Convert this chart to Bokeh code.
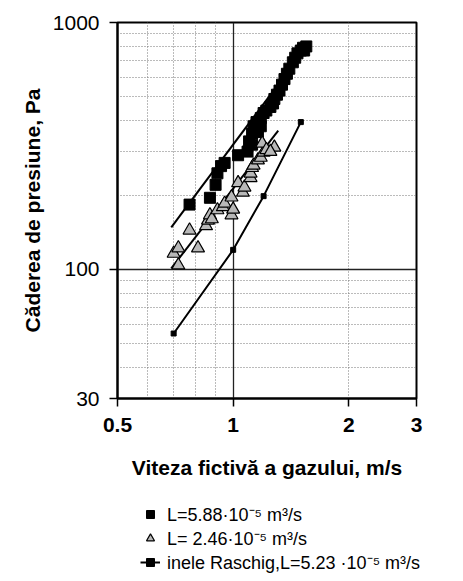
from bokeh.plotting import figure
from bokeh.layouts import column, row
from bokeh.models import (FixedTicker, CustomJSTickFormatter, Legend, LegendItem)
from bokeh.embed import file_html
from bokeh.resources import INLINE

# ---- data ----
sq_x = [0.77, 0.87, 0.90, 0.91, 0.93, 0.95, 1.03, 1.09, 1.10, 1.12, 1.12, 1.13,
        1.15, 1.16, 1.18, 1.18, 1.20, 1.22, 1.25, 1.27, 1.28, 1.30, 1.32, 1.34,
        1.36, 1.38, 1.40, 1.43, 1.45, 1.47, 1.50, 1.52, 1.53, 1.55]
sq_y = [183, 195, 220, 245, 262, 270, 290, 300, 330, 320, 355, 380,
        395, 360, 410, 380, 430, 440, 455, 470, 490, 510, 530, 560,
        590, 620, 650, 690, 720, 750, 770, 790, 770, 800]

tri_x = [0.70, 0.72, 0.72, 0.77, 0.81, 0.85, 0.86, 0.87, 0.88, 0.91, 0.94, 0.95,
         0.99, 1.00, 0.99, 1.03, 1.06, 1.07, 1.11, 1.11, 1.12, 1.13, 1.16, 1.18,
         1.20, 1.19, 1.28, 1.22, 1.25]
tri_y = [116, 104, 122, 144, 122, 150, 158, 166, 160, 174, 179, 185,
         166, 175, 196, 224, 205, 215, 235, 245, 258, 264, 277, 284,
         298, 324, 312, 305, 300]

ras_x = [0.70, 1.00, 1.20, 1.50]
ras_y = [55, 120, 198, 395]

sq_fit_x = [0.69, 1.58]
sq_fit_y = [148, 830]
tri_fit_x = [0.69, 1.31]
tri_fit_y = [101, 365]

x_ticks = [0.5, 1, 2, 3]
y_ticks = [30, 100, 1000]
x_minor_grid = [0.6, 0.7, 0.8, 0.9, 2]
y_minor_grid = [40, 50, 60, 70, 80, 90, 200, 300, 400, 500, 600, 700, 800, 900]

labels = ["L=5.88·10⁻⁵ m³/s", "L= 2.46·10⁻⁵ m³/s",
          "inele Raschig,L=5.23 ·10⁻⁵ m³/s"]

FONT = "Liberation Sans"

SQ = dict(marker="square", size=11, fill_color="black", line_color="black")
TRI = dict(marker="triangle", size=13, fill_color="#b8b8b8",
           line_color="black", line_width=1.2)
RL = dict(line_color="black", line_width=2)
RM = dict(marker="square", size=5, fill_color="black", line_color="black")

p = figure(x_axis_type="log", y_axis_type="log",
           x_range=(0.5, 3), y_range=(30, 1000),
           frame_width=299, frame_height=376,
           min_border_left=117, min_border_top=22, min_border_right=40,
           min_border_bottom=100,
           output_backend="svg", toolbar_location=None,
           background_fill_color="white", border_fill_color="white")

p.outline_line_color = "black"
p.outline_line_width = 2

# grids
p.xgrid.ticker = FixedTicker(ticks=[1], minor_ticks=x_minor_grid)
p.ygrid.ticker = FixedTicker(ticks=[100], minor_ticks=y_minor_grid)
for g in (p.xgrid, p.ygrid):
    g.grid_line_color = "#222222"
    g.grid_line_width = 1.3
    g.minor_grid_line_color = "#777777"
    g.minor_grid_line_dash = "1 2"
    g.minor_grid_line_width = 1

# axes
p.xaxis.ticker = FixedTicker(ticks=x_ticks)
p.yaxis.ticker = FixedTicker(ticks=y_ticks)
p.xaxis.formatter = CustomJSTickFormatter(code="return tick.toString();")
p.yaxis.formatter = CustomJSTickFormatter(code="return tick.toString();")
for ax in (p.xaxis, p.yaxis):
    ax.axis_line_color = "black"
    ax.axis_line_width = 2
    ax.major_tick_line_color = "black"
    ax.major_tick_line_width = 1.5
    ax.major_tick_out = 8
    ax.major_tick_in = 0
    ax.minor_tick_line_color = None
    ax.major_label_text_font = FONT
    ax.major_label_text_font_size = "21px"
    ax.major_label_text_color = "black"
    ax.axis_label_text_font = FONT
    ax.axis_label_text_font_style = "bold"
    ax.axis_label_text_color = "black"

p.xaxis.major_label_text_font_style = "bold"
p.xaxis.major_label_standoff = 11
p.xaxis.axis_label = "Viteza fictivă a gazului, m/s"
p.xaxis.axis_label_text_font_size = "21px"
p.xaxis.axis_label_standoff = 21

p.yaxis.major_label_text_font_style = "normal"
p.yaxis.major_label_standoff = 10
p.yaxis.axis_label = "Căderea de presiune, Pa"
p.yaxis.axis_label_text_font_size = "21px"
p.yaxis.axis_label_standoff = 6

# marks
p.line(sq_fit_x, sq_fit_y, line_color="black", line_width=2)
p.line(tri_fit_x, tri_fit_y, line_color="black", line_width=2)
p.scatter(sq_x, sq_y, **SQ)
p.scatter(tri_x, tri_y, **TRI)
p.line(ras_x, ras_y, **RL)
p.scatter(ras_x, ras_y, **RM)

# legend panel below the chart (its renderers sit outside the visible range)
lg = figure(width=463, height=83, x_axis_type=None, y_axis_type=None,
            x_range=(0, 1), y_range=(0, 1),
            min_border_left=117, min_border_top=0, min_border_right=0,
            min_border_bottom=0,
            output_backend="svg", toolbar_location=None,
            background_fill_color="white", border_fill_color="white")
lg.outline_line_color = None
lg.xgrid.visible = False
lg.ygrid.visible = False
off_x = [-10, -9]
off_y = [-10, -9]
l_sq = lg.scatter(off_x, off_y, **SQ)
l_tri = lg.scatter(off_x, off_y, **TRI)
l_rl = lg.line(off_x, off_y, **RL)
l_rm = lg.scatter(off_x, off_y, **RM)

legend = Legend(items=[
    LegendItem(label=labels[0], renderers=[l_sq]),
    LegendItem(label=labels[1], renderers=[l_tri]),
    LegendItem(label=labels[2], renderers=[l_rl, l_rm]),
], location=(23, 7), orientation="vertical")
legend.border_line_color = None
legend.background_fill_alpha = 0
legend.label_text_font = FONT
legend.label_text_font_size = "18px"
legend.label_text_color = "black"
legend.glyph_width = 20
legend.glyph_height = 20
legend.label_height = 20
legend.spacing = 0
legend.padding = 2
legend.margin = 0
legend.label_standoff = 7
lg.add_layout(legend, "center")

layout = column(p, row(lg), spacing=0)
open("out.html", "w").write(file_html(layout, INLINE))
